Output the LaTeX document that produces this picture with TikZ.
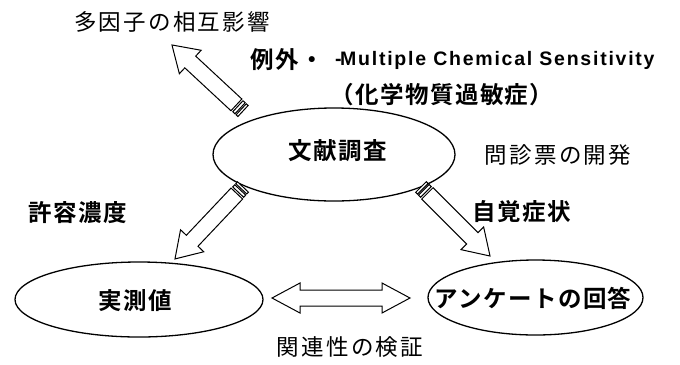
\documentclass[tikz,border=0pt]{standalone}
\usepackage{fontspec}
\usetikzlibrary{shapes.geometric,calc}
\newfontfamily\jpthin[LetterSpace=10]{Noto Sans CJK JP}
\newfontfamily\jpbold[LetterSpace=6,UprightFont={* Bold}]{Noto Sans CJK JP}
\newfontfamily\latb[LetterSpace=9]{Liberation Sans Bold}
\tikzset{
  ell/.style={draw, ellipse, line width=1.3bp, inner sep=0pt},
  thin/.style={font=\fontsize{22.5bp}{26bp}\jpthin, inner sep=0pt},
  bold/.style={font=\fontsize{23.5bp}{27bp}\jpbold, inner sep=0pt},
  arrowline/.style={draw, line width=1bp, line join=miter, fill=white},
}
\newcommand\stparrow[4]{%
  \begin{scope}[shift={(#1,#2)}, rotate=#3]
    \draw[arrowline] (0,-7.5) rectangle (2.5,7.5);
    \draw[arrowline] (4,-7.5) rectangle (7,7.5);
    \draw[arrowline] (9,-8) -- ({#4-25},-8) -- ({#4-25},-16) -- (#4,0) -- ({#4-25},16) -- ({#4-25},8) -- (9,8) -- cycle;
  \end{scope}}
\begin{document}
\begin{tikzpicture}[x=1bp,y=-1bp]
\useasboundingbox (0,0) rectangle (680,364);
% ellipses
\node[ell, minimum width=242bp, minimum height=93bp] (lit) at (334,154.5) {};
\node[bold] at (338,151) {文献調査};
\node[ell, minimum width=248bp, minimum height=75bp] (meas) at (139,299.5) {};
\node[bold] at (135,301) {実測値};
\node[ell, minimum width=215bp, minimum height=75bp] (ank) at (535.5,297.5) {};
\node[bold] at (533,298) {アンケートの回答};
% striped arrows
\stparrow{243}{111}{137.1}{97}
\stparrow{243}{187}{-133.4}{99}
\stparrow{421}{187}{-45}{97.6}
% double arrow
\coordinate (dl) at (272,298);
\coordinate (dr) at (410,298);
\draw[arrowline] (dl) -- ++(28,-15) -- ++(0,7) -- ($(dr)+(-28,-8)$) -- ++(0,-7) -- (dr) -- ++(-28,15) -- ++(0,-7) -- ($(dl)+(28,8)$) -- ++(0,7) -- cycle;
% labels
\node[thin] (l1) at (172,22) {多因子の相互影響};
\node[bold, anchor=west] (l2) at (250,60) {例外・};
\node[font=\fontsize{19.5bp}{24bp}\latb, anchor=west, inner sep=0pt] (l3) at (335,60) {-\kern-1.5bp Multiple Chemical Sensitivity};
\node[bold] (l4) at (442,95) {（化学物質過敏症）};
\node[thin] (l5) at (558,155) {問診票の開発};
\node[bold] (l6) at (78,213) {許容濃度};
\node[bold] (l7) at (522,212) {自覚症状};
\node[thin] (l8) at (350,347) {関連性の検証};
\end{tikzpicture}
\end{document}
